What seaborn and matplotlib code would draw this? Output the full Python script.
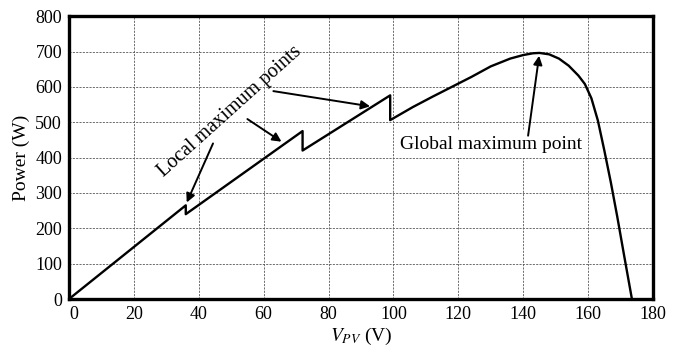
"""
P-V curve of a partially shaded PV array: three local maxima and one
global maximum point.
"""

import matplotlib.pyplot as plt
import pandas as pd
import seaborn as sns

# curve (duplicate voltages are the steps)
vpv = [0, 36, 36, 72, 72, 99, 99, 106, 112, 118, 124, 130, 136, 140, 143,
       145, 148, 151, 154, 157, 159, 161, 163, 165, 167, 169, 171, 173.5]
power = [0, 265, 240, 475, 420, 576, 506, 543, 572, 600, 628, 658, 680, 690,
         695, 696, 692, 680, 660, 632, 608, 568, 505, 420, 330, 232, 128, 0]

x_ticks = [0, 20, 40, 60, 80, 100, 120, 140, 160, 180]
y_ticks = [0, 100, 200, 300, 400, 500, 600, 700, 800]

local_label = "Local maximum points"
global_label = "Global maximum point"
# (tail, head) of each arrow in data units
local_arrows = [((44.4, 440), (36.3, 273)),
                ((55.0, 509), (65.5, 445)),
                ((63.0, 588), (92.8, 545))]
global_arrow = ((141.5, 462), (144.9, 688))


def main():
    sns.set_theme(style="whitegrid")
    plt.rcParams["font.family"] = ["Liberation Serif", "DejaVu Serif"]
    plt.rcParams["mathtext.fontset"] = "stix"
    plt.rcParams["text.color"] = "black"
    plt.rcParams["axes.labelcolor"] = "black"

    df = pd.DataFrame({"vpv": vpv, "power": power})

    fig = plt.figure(figsize=(6.76, 3.51), dpi=100)
    ax = fig.add_axes([0.102, 0.148, 0.864, 0.806])

    # estimator=None keeps the vertical steps instead of averaging them
    sns.lineplot(data=df, x="vpv", y="power", sort=False, estimator=None,
                 ax=ax, color="black", linewidth=1.7, zorder=3)

    ax.set_xlim(0, 180)
    ax.set_ylim(0, 800)
    ax.set_xticks(x_ticks)
    ax.set_yticks(y_ticks)
    ax.tick_params(length=0, labelsize=13, colors="black", pad=5)
    ax.grid(True, color="#555555", linestyle=(0, (2.5, 1.5)), linewidth=0.6)
    ax.set_facecolor("white")
    for spine in ax.spines.values():
        spine.set_color("black")
        spine.set_linewidth(2.4)

    # the x zero sits just right of the corner in the original
    ax.get_xticklabels()[0].set_horizontalalignment("left")

    ax.set_xlabel("$V_{PV}$ (V)", fontsize=14, labelpad=2)
    ax.set_ylabel("Power (W)", fontsize=14, labelpad=4)

    arrow_kw = dict(arrowstyle="-|>", color="black", lw=1.4,
                    mutation_scale=13, shrinkA=0, shrinkB=0)
    for tail, head in local_arrows:
        ax.annotate("", xy=head, xytext=tail, arrowprops=arrow_kw, zorder=4)
    ax.annotate("", xy=global_arrow[1], xytext=global_arrow[0],
                arrowprops=arrow_kw, zorder=4)

    ax.text(49.5, 530, local_label, fontsize=14.5, rotation=42,
            rotation_mode="anchor", ha="center", va="center", zorder=5)
    ax.text(130.2, 438, global_label, fontsize=14, ha="center", va="center",
            zorder=2, bbox=dict(facecolor="white", edgecolor="none", pad=4))

    fig.savefig("out.png", dpi=100)
    plt.close(fig)


if __name__ == "__main__":
    main()
